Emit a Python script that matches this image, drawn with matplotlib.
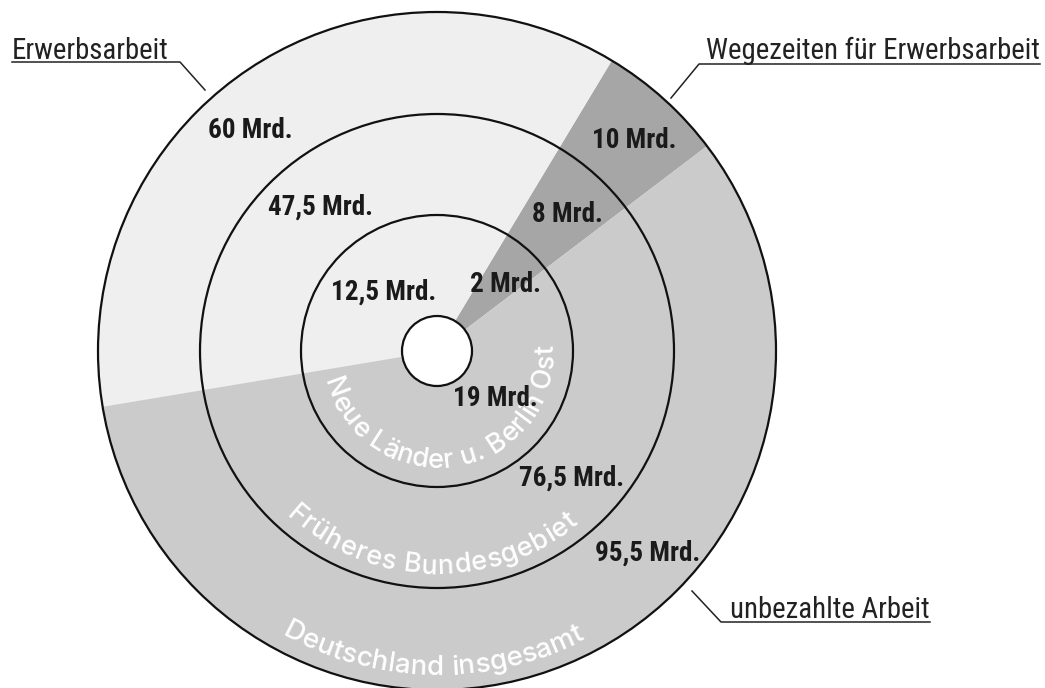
import numpy as np
import matplotlib
matplotlib.use('Agg')
import matplotlib.pyplot as plt
from matplotlib.patches import Circle
from matplotlib.font_manager import FontProperties
from matplotlib.textpath import TextToPath

W, H = 1045, 688

# segments in pie order (counter-clockwise, starting upper right)
segments = ['Wegezeiten für Erwerbsarbeit', 'Erwerbsarbeit', 'unbezahlte Arbeit']
seg_colors = ['#a6a6a6', '#efefef', '#cbcbcb']

# Mrd. Stunden per ring
neue_laender = [2, 12.5, 19]
frueheres_bg = [8, 47.5, 76.5]
deutschland = [10, 60, 95.5]
ring_names = ['Neue Länder u. Berlin Ost', 'Früheres Bundesgebiet', 'Deutschland insgesamt']

# geometry (pixels)
cx, cy = 437, H - 351
radii = [136, 237, 339]
hole_r = 35

# where the value labels sit, per ring, per segment (pixel coords, y from top)
label_pos = [
    [(505, 284), (384, 292), (495, 398)],
    [(567, 214), (321, 207), (572, 478)],
    [(634, 140), (250, 131), (648, 553)],
]
# curved ring names: baseline radius, middle angle, angular span, font size
arc_cfg = [(117, 279, 168, 19.5), (223, 268.5, 82, 19.5), (324, 269.3, 56, 20)]

cond_font = ['Roboto Condensed', 'Liberation Sans', 'DejaVu Sans']
arc_font = ['Inter', 'DejaVu Sans']

fig = plt.figure(figsize=(W / 100, H / 100), dpi=100)
ax = fig.add_axes([0, 0, 1, 1])

# one pie for all rings, angles from the Deutschland totals
ax.pie(deutschland, colors=seg_colors, startangle=37.2, counterclock=True,
       radius=radii[-1], center=(cx, cy), wedgeprops=dict(linewidth=0))

for r in radii:
    ax.add_patch(Circle((cx, cy), r, fill=False, ec='#111111', lw=1.6, zorder=3))
ax.add_patch(Circle((cx, cy), hole_r, fc='white', ec='#111111', lw=1.6, zorder=3))


def fmt(v):
    return f'{v:g}'.replace('.', ',') + ' Mrd.'


for ring, vals in enumerate([neue_laender, frueheres_bg, deutschland]):
    for (x, y), v in zip(label_pos[ring], vals):
        ax.text(x, H - y, fmt(v), ha='center', va='center', fontsize=19.5,
                fontweight='bold', family=cond_font, color='#1a1a1a', zorder=5)


# text along the rings, letters standing toward the centre
ttp = TextToPath()


def arc_text(s, r, mid_deg, span_deg, fs):
    fp = FontProperties(family=arc_font, size=fs, weight='medium')
    k = 100 / 72

    def width(t):
        return ttp.get_text_width_height_descent(t, fp, ismath=False)[0] * k

    centers = []
    for i, ch in enumerate(s):
        if ch == ' ':
            centers.append(None)
            continue
        centers.append(width(s[:i + 1]) - width(ch) / 2)
    total = width(s)
    target = np.deg2rad(span_deg) * r
    extra = (target - total) / (len(s) - 1)
    th0 = np.deg2rad(mid_deg) - target / 2 / r
    for i, (ch, c) in enumerate(zip(s, centers)):
        if c is None:
            continue
        th = th0 + (c + i * extra) / r
        ax.text(cx + r * np.cos(th), cy + r * np.sin(th), ch, fontproperties=fp,
                rotation=np.rad2deg(th) + 90, rotation_mode='anchor',
                ha='center', va='baseline', color='white', zorder=4)


for name, (r, mid, span, fs) in zip(ring_names, arc_cfg):
    arc_text(name, r, mid, span, fs)

# callouts
call_font = dict(fontsize=20.8, family=cond_font, color='#222222')
ax.text(12, H - 59, segments[1], ha='left', va='baseline', **call_font)
ax.plot([12, 180, 205], [H - 62, H - 62, H - 90], color='#222222', lw=1.1)

ax.text(1040, H - 59, segments[0], ha='right', va='baseline', **call_font)
ax.plot([1040, 699, 671], [H - 64, H - 64, H - 98], color='#222222', lw=1.1)

ax.text(930, H - 618, segments[2], ha='right', va='baseline', **call_font)
ax.plot([930, 721, 692], [H - 622, H - 622, H - 591], color='#222222', lw=1.1)

ax.set_xlim(0, W)
ax.set_ylim(0, H)
ax.set_aspect('equal')
ax.axis('off')

fig.savefig('out.png', dpi=100)
